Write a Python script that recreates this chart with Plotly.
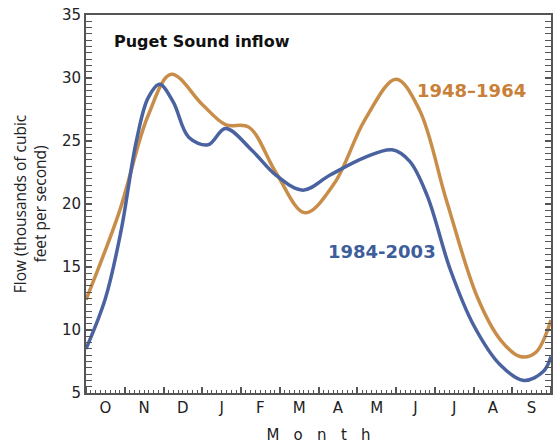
import plotly.graph_objects as go

# Month positions run from 0 (1 October) to 12 (30 September)
month_labels = ["O", "N", "D", "J", "F", "M", "A", "M", "J", "J", "A", "S"]
month_centers = [i + 0.5 for i in range(12)]
month_bounds = list(range(13))

# Mean daily inflow, thousands of cubic feet per second
early_x = [0, 0.85, 1.6, 2.2, 3.0, 3.6, 4.2, 4.9, 5.65, 6.4, 7.2, 8.0, 8.6, 9.3,
           10.1, 10.7, 11.2, 11.6, 12.0]
early_flow = [12.4, 19.3, 27.0, 30.3, 27.9, 26.3, 26.1, 22.5, 19.3, 21.6, 26.7, 29.9,
              27.5, 20.3, 12.6, 9.2, 7.9, 8.2, 10.8]

late_x = [0, 0.5, 0.9, 1.3, 1.6, 1.9, 2.25, 2.65, 3.15, 3.6, 4.3, 4.9, 5.6, 6.3, 7.2,
          7.9, 8.35, 8.8, 9.4, 10.0, 10.7, 11.3, 11.8, 12.0]
late_flow = [8.5, 12.5, 17.8, 25.0, 28.4, 29.5, 28.1, 25.3, 24.7, 26.0, 24.2, 22.3,
             21.1, 22.3, 23.7, 24.3, 23.4, 20.7, 14.8, 10.4, 7.2, 6.0, 6.7, 7.9]

ORANGE_LINE = "#C98D4A"
ORANGE_TEXT = "#C97F38"
BLUE_LINE = "#4A62A0"
BLUE_TEXT = "#3D5D9B"
AXIS = "#555555"
TICK_FONT = "DejaVu Sans"
LABEL_FONT = "DejaVu Sans"

fig = go.Figure()
fig.add_trace(go.Scatter(x=early_x, y=early_flow, mode="lines", name="1948–1964",
                         line=dict(color=ORANGE_LINE, width=3.5, shape="spline", smoothing=1.0)))
fig.add_trace(go.Scatter(x=late_x, y=late_flow, mode="lines", name="1984-2003",
                         line=dict(color=BLUE_LINE, width=3.5, shape="spline", smoothing=1.0)))

fig.update_layout(
    width=557, height=446,
    margin=dict(l=86, r=4, t=15, b=53),
    paper_bgcolor="white", plot_bgcolor="white",
    showlegend=False,
    font=dict(family=TICK_FONT, color="#222222"),
    xaxis=dict(
        range=[0, 12], tickvals=month_centers, ticktext=month_labels,
        ticks="", tickfont=dict(size=15, color="#222"),
        showgrid=False, zeroline=False,
        showline=True, linecolor=AXIS, linewidth=2, mirror=True,
        minor=dict(tickvals=month_bounds, ticks="inside", ticklen=6,
                   tickcolor=AXIS, tickwidth=1.5, showgrid=False),
        title=dict(text="M&nbsp;&nbsp;&nbsp;o&nbsp;&nbsp;&nbsp;n&nbsp;&nbsp;&nbsp;t&nbsp;&nbsp;&nbsp;h",
                   font=dict(size=15, color="#222"), standoff=13),
    ),
    xaxis2=dict(
        range=[0, 12], overlaying="x", matches="x", side="bottom",
        showticklabels=False, showgrid=False, zeroline=False, showline=False,
        tickmode="linear", tick0=0, dtick=0.125, ticks="inside", ticklen=3,
        tickcolor=AXIS, tickwidth=1,
    ),
    yaxis=dict(
        range=[5, 35], tickvals=[5, 10, 15, 20, 25, 30, 35],
        ticks="inside", ticklen=6, tickcolor=AXIS, tickwidth=1.5,
        tickfont=dict(size=15, color="#222"),
        showgrid=False, zeroline=False,
        showline=True, linecolor=AXIS, linewidth=2, mirror="allticks",
        minor=dict(dtick=0.5, ticks="inside", ticklen=3, tickcolor=AXIS,
                   tickwidth=1, showgrid=False),
        title=dict(text="Flow (thousands of cubic<br>feet per second)",
                   font=dict(family="Open Sans", size=15.5, color="#222"), standoff=11),
    ),
)

# invisible trace so the fine-tick axis is drawn
fig.add_trace(go.Scatter(x=[0, 12], y=[5, 5], xaxis="x2", mode="lines",
                         line=dict(width=0), hoverinfo="skip", showlegend=False))

fig.add_annotation(x=0.055, y=0.93, xref="paper", yref="paper", xanchor="left",
                   yanchor="middle", showarrow=False,
                   text="<b>Puget Sound inflow</b>",
                   font=dict(family=LABEL_FONT, size=16, color="#111"))
fig.add_annotation(x=8.5, y=29.0, xref="x", yref="y", xanchor="left", yanchor="middle",
                   showarrow=False, text="<b>1948–1964</b>",
                   font=dict(family=LABEL_FONT, size=18, color=ORANGE_TEXT))
fig.add_annotation(x=6.2, y=16.2, xref="x", yref="y", xanchor="left", yanchor="middle",
                   showarrow=False, text="<b>1984-2003</b>",
                   font=dict(family=LABEL_FONT, size=18, color=BLUE_TEXT))

fig.write_html("out.html")
